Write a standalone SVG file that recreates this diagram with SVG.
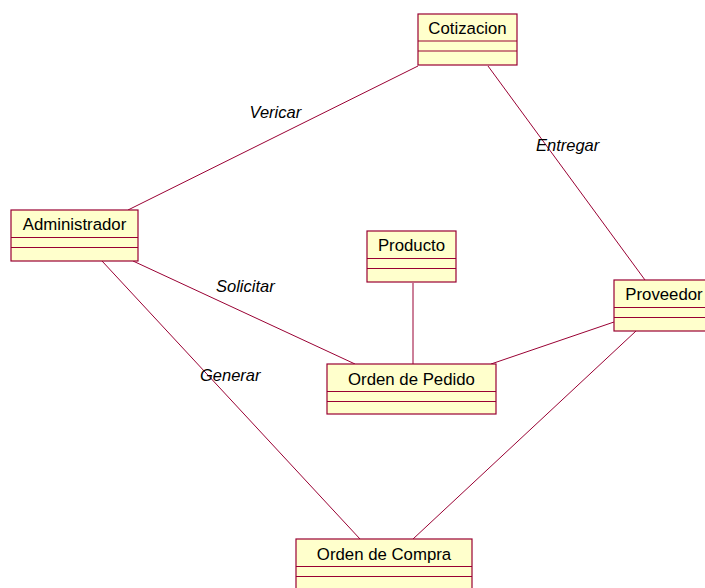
<svg xmlns="http://www.w3.org/2000/svg" width="705" height="588" viewBox="0 0 705 588">
  <style>
    .box { fill: #FFFFCC; stroke: #990033; stroke-width: 1.2; }
    .sep { stroke: #990033; stroke-width: 1; }
    .name { font-family: "Liberation Sans", Arial, sans-serif; font-size: 16.8px; fill: #000; text-anchor: middle; }
    .assoc { stroke: #990033; stroke-width: 1; fill: none; }
    .role { font-family: "Liberation Sans", Arial, sans-serif; font-size: 16.5px; font-style: italic; fill: #000; }
  </style>
  <rect width="705" height="588" fill="#FFFFFF"/>

  <!-- associations -->
  <g id="connectors">
    <line class="assoc" x1="418" y1="66" x2="128" y2="210"/>
    <line class="assoc" x1="488" y1="66" x2="645" y2="280"/>
    <line class="assoc" x1="133" y1="261" x2="355" y2="364"/>
    <line class="assoc" x1="102" y1="261" x2="360" y2="539"/>
    <line class="assoc" x1="413" y1="283" x2="413" y2="364"/>
    <line class="assoc" x1="614" y1="322" x2="491" y2="364"/>
    <line class="assoc" x1="636" y1="331" x2="413" y2="539"/>
    <text class="role" x="249.5" y="118">Vericar</text>
    <text class="role" x="536" y="151">Entregar</text>
    <text class="role" x="216" y="292">Solicitar</text>
    <text class="role" x="200" y="381">Generar</text>
  </g>

  <!-- classes -->
  <g id="cotizacion">
    <rect class="box" x="418" y="14" width="99" height="51"/>
    <line class="sep" x1="418" y1="41" x2="517" y2="41"/>
    <line class="sep" x1="418" y1="51" x2="517" y2="51"/>
    <text class="name" x="467.5" y="34">Cotizacion</text>
  </g>
  <g id="administrador">
    <rect class="box" x="11" y="210" width="127" height="51"/>
    <line class="sep" x1="11" y1="237.5" x2="138" y2="237.5"/>
    <line class="sep" x1="11" y1="247.5" x2="138" y2="247.5"/>
    <text class="name" x="74.5" y="230">Administrador</text>
  </g>
  <g id="proveedor">
    <rect class="box" x="614" y="280" width="100" height="51"/>
    <line class="sep" x1="614" y1="307.5" x2="714" y2="307.5"/>
    <line class="sep" x1="614" y1="317.5" x2="714" y2="317.5"/>
    <text class="name" x="664" y="300">Proveedor</text>
  </g>
  <g id="producto">
    <rect class="box" x="367" y="231" width="89" height="51"/>
    <line class="sep" x1="367" y1="258.5" x2="456" y2="258.5"/>
    <line class="sep" x1="367" y1="268.5" x2="456" y2="268.5"/>
    <text class="name" x="411.5" y="251">Producto</text>
  </g>
  <g id="orden-de-pedido">
    <rect class="box" x="327" y="364" width="169" height="50"/>
    <line class="sep" x1="327" y1="391.5" x2="496" y2="391.5"/>
    <line class="sep" x1="327" y1="401.5" x2="496" y2="401.5"/>
    <text class="name" x="411.5" y="385">Orden de Pedido</text>
  </g>
  <g id="orden-de-compra">
    <rect class="box" x="296" y="539" width="176" height="52"/>
    <line class="sep" x1="296" y1="566.5" x2="472" y2="566.5"/>
    <line class="sep" x1="296" y1="576.5" x2="472" y2="576.5"/>
    <text class="name" x="384" y="560">Orden de Compra</text>
  </g>
</svg>
